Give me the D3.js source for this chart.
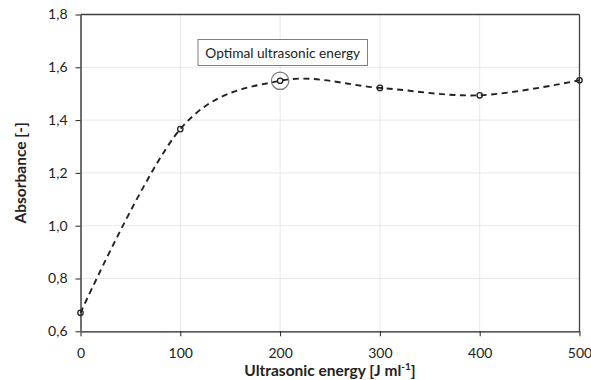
<!DOCTYPE html>
<html><head><meta charset="utf-8">
<script src="https://cdn.jsdelivr.net/npm/d3@7"></script>
<style>body{margin:0;background:#fff}svg{display:block}</style>
</head><body>
<svg id="c" width="591" height="380"></svg>
<script>
const energy = [0, 100, 200, 300, 400, 500];
const absorbance = [0.670, 1.366, 1.549, 1.522, 1.494, 1.551];
const xTicks = [0, 100, 200, 300, 400, 500];
const yTicks = [0.6, 0.8, 1.0, 1.2, 1.4, 1.6, 1.8];
const annotationText = "Optimal ultrasonic energy";
const optimalIndex = 2;

const svg = d3.select("#c");
const font = "Lato, 'Open Sans', sans-serif";
const L = 80.5, R = 579.5, T = 14.5, B = 331.3;
const x = d3.scaleLinear().domain([0, 500]).range([L, R]);
const y = d3.scaleLinear().domain([0.6, 1.8]).range([B, T]);
const fmt = d => d3.format(".1f")(d).replace(".", ",");

// grid
const g = svg.append("g");
g.selectAll("line.h").data(yTicks.slice(1)).join("line")
  .attr("x1", L).attr("x2", R).attr("y1", d => y(d)).attr("y2", d => y(d))
  .attr("stroke", "#c8c8c8").attr("stroke-width", 0.8).attr("stroke-dasharray", "1,1");
g.selectAll("line.v").data(xTicks.slice(1, -1)).join("line")
  .attr("y1", T).attr("y2", B).attr("x1", d => x(d)).attr("x2", d => x(d))
  .attr("stroke", "#c8c8c8").attr("stroke-width", 0.8).attr("stroke-dasharray", "1,1");

// border top and right
svg.append("line").attr("x1", L).attr("x2", R).attr("y1", T).attr("y2", T).attr("stroke", "#404040").attr("stroke-width", 1.3);
svg.append("line").attr("x1", R).attr("x2", R).attr("y1", T).attr("y2", B).attr("stroke", "#404040").attr("stroke-width", 1.3);

// axes
const xAxis = svg.append("g").attr("transform", `translate(0,${B})`)
  .call(d3.axisBottom(x).tickValues(xTicks).tickSize(5).tickSizeOuter(0).tickFormat(d3.format("d")));
xAxis.select(".domain").attr("stroke", "#222").attr("stroke-width", 1.3);
xAxis.selectAll(".tick line").attr("stroke", "#222").attr("stroke-width", 1);
xAxis.selectAll("text").attr("font-family", font).attr("font-size", 14).attr("fill", "#222").attr("dy", null).attr("y", 27);

const yAxis = svg.append("g").attr("transform", `translate(${L},0)`)
  .call(d3.axisLeft(y).tickValues(yTicks).tickSize(5).tickSizeOuter(0).tickFormat(fmt));
yAxis.select(".domain").attr("stroke", "#707070").attr("stroke-width", 2);
yAxis.selectAll(".tick line").attr("stroke", "#222").attr("stroke-width", 1);
yAxis.selectAll("text").attr("font-family", font).attr("font-size", 14).attr("fill", "#222").attr("x", -13);

// line
const data = energy.map((e, i) => ({e, a: absorbance[i]}));
const line = d3.line().x(d => x(d.e)).y(d => y(d.a)).curve(d3.curveCardinal.tension(0));
svg.append("path").datum(data).attr("d", line).attr("fill", "none")
  .attr("stroke", "#222").attr("stroke-width", 1.9).attr("stroke-dasharray", "6,4.5");

svg.selectAll("circle.pt").data(data).join("circle")
  .attr("cx", d => x(d.e)).attr("cy", d => y(d.a)).attr("r", 2.7)
  .attr("fill", "none").attr("stroke", "#222").attr("stroke-width", 1.3);

// highlight circle
const opt = data[optimalIndex];
svg.append("circle").attr("cx", x(opt.e)).attr("cy", y(opt.a)).attr("r", 8.7)
  .attr("fill", "none").attr("stroke", "#7a7a7a").attr("stroke-width", 1.3);

// annotation box
const bx = 198, by = 39.5, bw = 169.5, bh = 26;
svg.append("rect").attr("x", bx).attr("y", by).attr("width", bw).attr("height", bh)
  .attr("fill", "#fff").attr("stroke", "#808080").attr("stroke-width", 1);
svg.append("text").attr("x", bx + bw / 2).attr("y", by + bh / 2 + 5).attr("text-anchor", "middle")
  .attr("font-family", font).attr("font-size", 13.7).attr("fill", "#222").text(annotationText);

// titles
svg.append("text").attr("transform", `translate(26,${(T + B) / 2}) rotate(-90)`).attr("text-anchor", "middle")
  .attr("font-family", font).attr("font-size", 15.5).attr("font-weight", "bold").attr("fill", "#222").text("Absorbance [-]");
const xt = svg.append("text").attr("x", (L + R) / 2).attr("y", 376).attr("text-anchor", "middle")
  .attr("font-family", font).attr("font-size", 15.5).attr("font-weight", "bold").attr("fill", "#222");
xt.append("tspan").text("Ultrasonic energy [J ml");
xt.append("tspan").attr("font-size", 10).attr("dy", -6).text("-1");
xt.append("tspan").attr("dy", 6).text("]");
</script>
</body></html>
